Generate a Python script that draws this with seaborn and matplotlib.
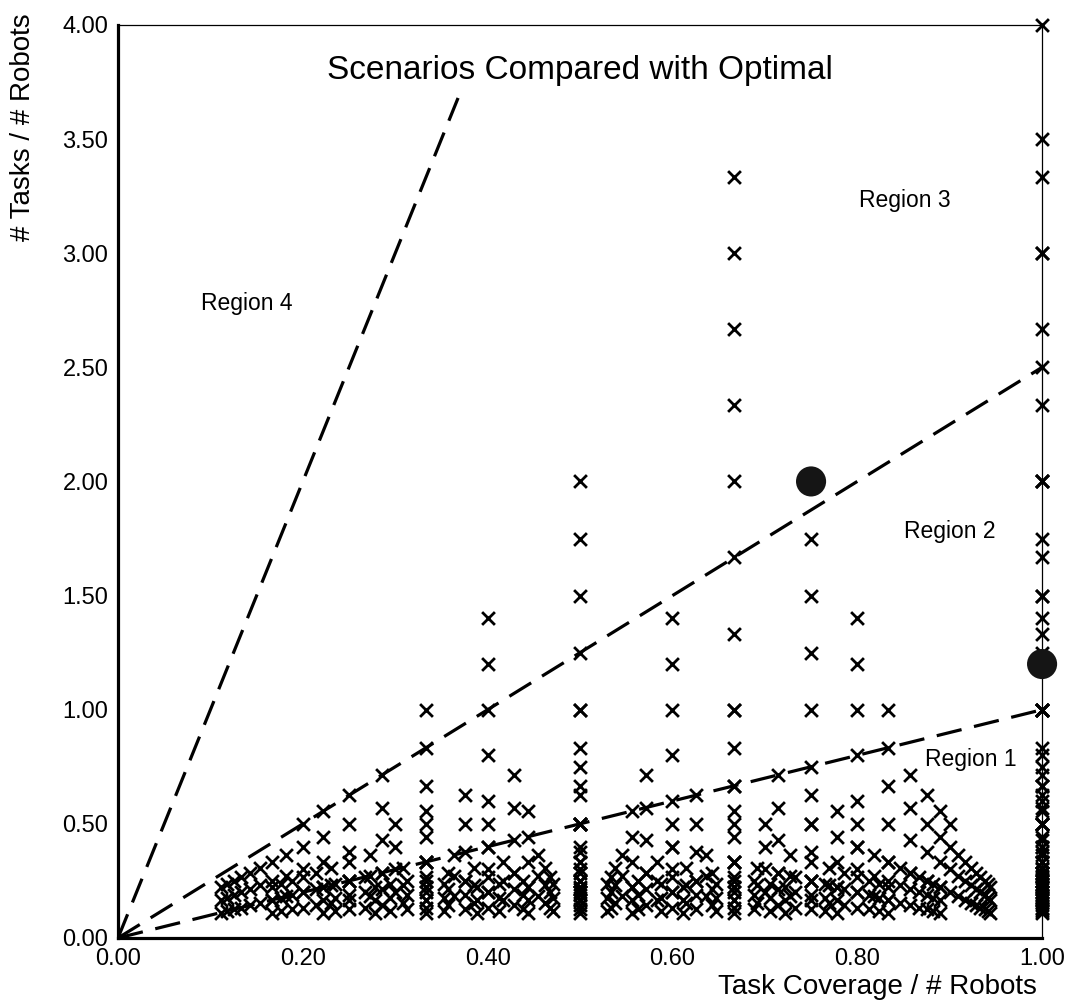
import numpy as np
import pandas as pd
import matplotlib
matplotlib.use("Agg")
import matplotlib.pyplot as plt
import seaborn as sns

# ── Scenario data, grouped by number of robots ──────────────
# cov   = task coverage / # robots  (x)
# tasks = # tasks / # robots        (y)
r2_cov = [1.0]
r2_tasks = [1.0, 1.5, 2.0, 2.5, 3.0, 3.5, 4.0]
r3_cov = [0.667, 1.0]
r3_tasks = [0.667, 1.0, 1.333, 1.667, 2.0, 2.333, 2.667, 3.0, 3.333]
r4_cov = [0.5, 0.75, 1.0]
r4_tasks = [0.5, 0.75, 1.0, 1.25, 1.5, 1.75, 2.0]
r5_cov = [0.4, 0.6, 0.8, 1.0]
r5_tasks = [0.4, 0.6, 0.8, 1.0, 1.2, 1.4]
r6_cov = [0.333, 0.5, 0.667, 0.833, 1.0]
r6_tasks = [0.333, 0.5, 0.667, 0.833, 1.0]
r7_cov = [0.286, 0.429, 0.571, 0.714, 0.857, 1.0]
r7_tasks = [0.286, 0.429, 0.571, 0.714]
r8_cov = [0.25, 0.375, 0.5, 0.625, 0.75, 0.875, 1.0]
r8_tasks = [0.25, 0.375, 0.5, 0.625]
r9_cov = [0.222, 0.333, 0.444, 0.556, 0.667, 0.778, 0.889, 1.0]
r9_tasks = [0.222, 0.333, 0.444, 0.556]
r10_cov = [0.2, 0.3, 0.4, 0.5, 0.6, 0.7, 0.8, 0.9, 1.0]
r10_tasks = [0.2, 0.3, 0.4, 0.5]
r11_cov = [0.182, 0.273, 0.364, 0.455, 0.545, 0.636, 0.727, 0.818, 0.909, 1.0]
r11_tasks = [0.182, 0.273, 0.364]
r12_cov = [0.167, 0.25, 0.333, 0.417, 0.5, 0.583, 0.667, 0.75, 0.833, 0.917, 1.0]
r12_tasks = [0.167, 0.25, 0.333]
r13_cov = [0.154, 0.231, 0.308, 0.385, 0.462, 0.538, 0.615, 0.692, 0.769,
           0.846, 0.923, 1.0]
r13_tasks = [0.154, 0.231, 0.308]
r14_cov = [0.143, 0.214, 0.286, 0.357, 0.429, 0.5, 0.571, 0.643, 0.714,
           0.786, 0.857, 0.929, 1.0]
r14_tasks = [0.143, 0.214, 0.286]
r15_cov = [0.133, 0.2, 0.267, 0.333, 0.4, 0.467, 0.533, 0.6, 0.667, 0.733,
           0.8, 0.867, 0.933, 1.0]
r15_tasks = [0.133, 0.2, 0.267]
r16_cov = [0.125, 0.188, 0.25, 0.313, 0.375, 0.438, 0.5, 0.563, 0.625,
           0.688, 0.75, 0.813, 0.875, 0.938, 1.0]
r16_tasks = [0.125, 0.188, 0.25]
r17_cov = [0.118, 0.176, 0.235, 0.294, 0.353, 0.412, 0.471, 0.529, 0.588,
           0.647, 0.706, 0.765, 0.824, 0.882, 0.941, 1.0]
r17_tasks = [0.118, 0.176, 0.235]
r18_cov = [0.111, 0.167, 0.222, 0.278, 0.333, 0.389, 0.444, 0.5, 0.556,
           0.611, 0.667, 0.722, 0.778, 0.833, 0.889, 0.944, 1.0]
r18_tasks = [0.111, 0.167, 0.222]

# optimal solutions (big dots)
opt_cov = [0.75, 1.0]
opt_tasks = [2.0, 1.2]

# region boundaries (dashed lines from the origin)
bound4_x, bound4_y = [0.0, 0.368], [0.0, 3.68]
bound3_x, bound3_y = [0.0, 1.0], [0.0, 2.5]
bound2_x, bound2_y = [0.0, 1.0], [0.0, 1.0]

region_names = ["Region 1", "Region 2", "Region 3", "Region 4"]

ytick_vals = [0.0, 0.5, 1.0, 1.5, 2.0, 2.5, 3.0, 3.5, 4.0]
xtick_vals = [0.0, 0.2, 0.4, 0.6, 0.8, 1.0]

# ── build long table: every coverage/tasks combo per robot count
groups = [(r2_cov, r2_tasks), (r3_cov, r3_tasks), (r4_cov, r4_tasks),
          (r5_cov, r5_tasks), (r6_cov, r6_tasks), (r7_cov, r7_tasks),
          (r8_cov, r8_tasks), (r9_cov, r9_tasks), (r10_cov, r10_tasks),
          (r11_cov, r11_tasks), (r12_cov, r12_tasks), (r13_cov, r13_tasks),
          (r14_cov, r14_tasks), (r15_cov, r15_tasks), (r16_cov, r16_tasks),
          (r17_cov, r17_tasks), (r18_cov, r18_tasks)]
rows = [(cx, ty) for cov, tasks in groups for cx in cov for ty in tasks]
df = pd.DataFrame(rows, columns=["coverage", "tasks"])

# ── plot ────────────────────────────────────────────────────
sns.set_theme(style="white")
plt.rcParams["font.family"] = ["Liberation Sans", "DejaVu Sans"]
plt.rcParams["text.color"] = "black"
plt.rcParams["xtick.color"] = "black"
plt.rcParams["ytick.color"] = "black"

fig = plt.figure(figsize=(10.7, 10.05), dpi=100)
ax = fig.add_axes([0.1103, 0.0667, 0.8636, 0.9085])

for bx, by in [(bound4_x, bound4_y), (bound3_x, bound3_y), (bound2_x, bound2_y)]:
    ax.plot(bx, by, color="black", lw=2.3, dashes=(8, 4), zorder=2,
            dash_capstyle="butt")

sns.scatterplot(data=df, x="coverage", y="tasks", marker="x", s=85,
                color="black", linewidth=2.0, ax=ax, clip_on=False,
                legend=False, zorder=3)
sns.scatterplot(x=opt_cov, y=opt_tasks, marker="o", s=470, color="#151515",
                edgecolor="none", ax=ax, clip_on=False, legend=False, zorder=4)

ax.set_xlim(0, 1)
ax.set_ylim(0, 4)
ax.set_xticks(xtick_vals)
ax.set_xticklabels([f"{v:.2f}" for v in xtick_vals])
ax.set_yticks(ytick_vals)
ax.set_yticklabels([f"{v:.2f}" for v in ytick_vals])
ax.tick_params(axis="both", direction="in", length=8, width=1.8,
               labelsize=17, colors="black", pad=7)
ax.tick_params(axis="x", pad=7)

for side in ["left", "bottom"]:
    ax.spines[side].set_linewidth(2.3)
    ax.spines[side].set_color("black")
for side in ["top", "right"]:
    ax.spines[side].set_linewidth(0.9)
    ax.spines[side].set_color("black")

ax.set_xlabel("")
ax.set_ylabel("")
fig.text(1037 / 1070, 1 - 987 / 1005, "Task Coverage / # Robots",
         ha="right", va="center", fontsize=20)
fig.text(23 / 1070, 1 - 127 / 1005, "# Tasks / # Robots", rotation=90,
         ha="center", va="center", fontsize=20)

ax.text(0.5, 3.80, "Scenarios Compared with Optimal", ha="center",
        va="center", fontsize=24)

ax.text(0.923, 0.78, region_names[0], ha="center", va="center", fontsize=16.5)
ax.text(0.900, 1.78, region_names[1], ha="center", va="center", fontsize=16.5)
ax.text(0.851, 3.23, region_names[2], ha="center", va="center", fontsize=16.5)
ax.text(0.139, 2.78, region_names[3], ha="center", va="center", fontsize=16.5)

plt.savefig("out.png", dpi=100)
plt.close()
